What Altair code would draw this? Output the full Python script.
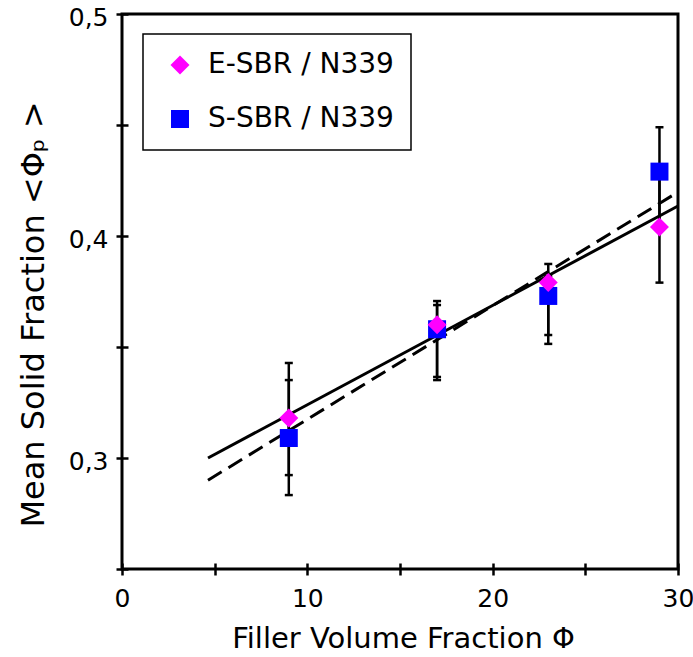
import altair as alt
import pandas as pd

# ---- data ----
x_pos = [9, 17, 23, 29]
series_names = ["E-SBR / N339", "S-SBR / N339"]

esbr_y = [0.318, 0.360, 0.379, 0.404]
esbr_lo = [0.2923, 0.3365, 0.3554, 0.379]
esbr_hi = [0.3428, 0.3707, 0.3874, 0.429]

ssbr_y = [0.309, 0.358, 0.373, 0.429]
ssbr_lo = [0.2833, 0.3351, 0.3514, 0.404]
ssbr_hi = [0.3351, 0.3689, 0.3820, 0.449]

fit_x = [4.64, 30]
fit_solid_y = [0.300, 0.4135]
fit_dashed_y = [0.290, 0.4198]

x_ticks = [0, 5, 10, 15, 20, 25, 30]
y_ticks = [0.25, 0.3, 0.35, 0.4, 0.45, 0.5]

colors = ["#FF00FF", "#0000FF"]
shapes = ["diamond", "square"]
sizes = [361, 324]

# ---- tables (S-SBR rows first so E-SBR diamonds draw on top) ----
pts = pd.DataFrame({
    "series": [series_names[1]] * 4 + [series_names[0]] * 4,
    "x": x_pos + x_pos,
    "y": ssbr_y + esbr_y,
    "lo": ssbr_lo + esbr_lo,
    "hi": ssbr_hi + esbr_hi,
})
fit_solid = pd.DataFrame({"x": fit_x, "y": fit_solid_y})
fit_dashed = pd.DataFrame({"x": fit_x, "y": fit_dashed_y})

FONT = "DejaVu Sans"
W, H = 556, 555
TK = 6  # half tick length (ticks cross the axis line)

xscale = alt.Scale(domain=[0, 30], nice=False, zero=False)
yscale = alt.Scale(domain=[0.25, 0.5], nice=False, zero=False)

x_axis = alt.Axis(
    values=x_ticks,
    labelExpr="datum.value % 10 == 0 ? datum.label : ''",
    grid=False, domain=False, offset=-TK,
    tickSize=2 * TK, tickWidth=2.5, tickColor="black",
    labelFont=FONT, labelFontSize=25, labelColor="black",
    labelFlush=False, labelBaseline="alphabetic", labelPadding=31,
    titleFont=FONT, titleFontSize=29, titleFontWeight="normal", titleColor="black",
    titleBaseline="alphabetic", titleAlign="center", titleX=281, titleY=78 + TK,
)
y_axis = alt.Axis(
    values=y_ticks,
    labelExpr="(abs(datum.value*10 - round(datum.value*10)) < 0.01 && datum.value > 0.26) ? replace(format(datum.value, '.1f'), '.', ',') : ''",
    grid=False, domain=False, offset=-TK,
    tickSize=2 * TK, tickWidth=2.5, tickColor="black",
    labelFont=FONT, labelFontSize=25, labelColor="black",
    labelFlush=False, labelPadding=8, labelOffset=3,
    titleFont=FONT, titleFontSize=32, titleFontWeight="normal", titleColor="black",
    titleAngle=270, titleBaseline="alphabetic", titleAlign="center",
    titleX=-79 - TK, titleY=300,
)

XT = "Filler Volume Fraction Φ"
YT = "Mean Solid Fraction <Φₚ  >"


def X(field):
    return alt.X(f"{field}:Q", scale=xscale, axis=x_axis, title=XT)


def Y(field):
    return alt.Y(f"{field}:Q", scale=yscale, axis=y_axis, title=YT)


solid = alt.Chart(fit_solid).mark_line(color="black", strokeWidth=3).encode(x=X("x"), y=Y("y"))
dashed = alt.Chart(fit_dashed).mark_line(color="black", strokeWidth=3, strokeDash=[16, 8]).encode(
    x=X("x"), y=Y("y"))

rules = alt.Chart(pts).mark_rule(color="black", strokeWidth=2.5).encode(
    x=X("x"), y=Y("lo"), y2="hi")
caps_lo = alt.Chart(pts).mark_tick(orient="horizontal", size=8, thickness=2.5,
                                   color="black", opacity=1).encode(x=X("x"), y=Y("lo"))
caps_hi = alt.Chart(pts).mark_tick(orient="horizontal", size=8, thickness=2.5,
                                   color="black", opacity=1).encode(x=X("x"), y=Y("hi"))

points = alt.Chart(pts).mark_point(filled=True, opacity=1, strokeWidth=0).encode(
    x=X("x"), y=Y("y"),
    color=alt.Color("series:N", scale=alt.Scale(domain=series_names, range=colors),
                    legend=alt.Legend(
                        orient="none", legendX=21, legendY=20, title=None,
                        strokeColor="black", fillColor="white",
                        padding=17, labelFont=FONT, labelFontSize=28, labelColor="black",
                        labelLimit=0,
                        symbolSize=500, symbolOffset=6, labelOffset=14, rowPadding=26,
                        symbolStrokeWidth=0)),
    shape=alt.Shape("series:N", scale=alt.Scale(domain=series_names, range=shapes)),
    size=alt.Size("series:N", scale=alt.Scale(domain=series_names, range=sizes), legend=None),
)

chart = alt.layer(solid, dashed, rules, caps_lo, caps_hi, points).properties(
    width=W, height=H,
    autosize=alt.AutoSizeParams(type="none"),
    padding={"left": 122, "top": 14, "right": 15, "bottom": 88},
    background="white",
).configure_view(stroke="black", strokeWidth=3).configure_legend(strokeWidth=1.5)

chart.save("out.html", embed_options={"renderer": "svg", "actions": False})
